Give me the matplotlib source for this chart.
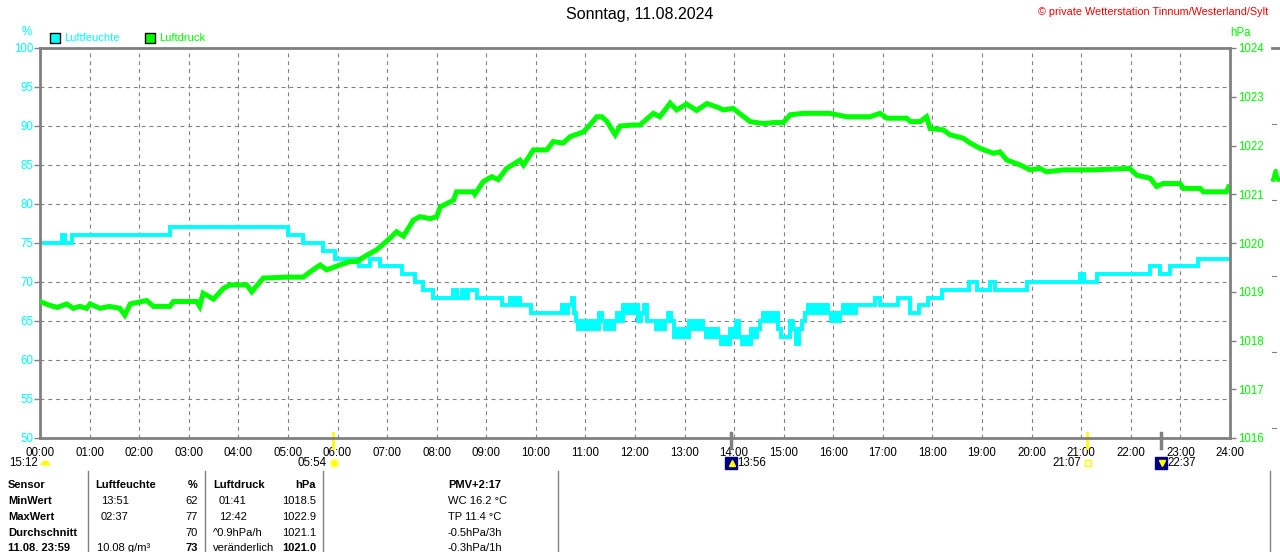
import matplotlib
matplotlib.use('Agg')
import matplotlib.pyplot as plt
import matplotlib.transforms as mtransforms
from matplotlib.lines import Line2D
from matplotlib.patches import Rectangle
from matplotlib.markers import MarkerStyle

plt.rcParams['font.family'] = ['Liberation Sans', 'DejaVu Sans']

# ---------------- data ----------------
title = "Sonntag, 11.08.2024"
copyright_text = "© private Wetterstation Tinnum/Westerland/Sylt"
hour_labels = ["%02d:00" % h for h in range(25)]
hum_ticks = [50, 55, 60, 65, 70, 75, 80, 85, 90, 95, 100]
pres_ticks = [1016, 1017, 1018, 1019, 1020, 1021, 1022, 1023, 1024]

# humidity (%), step series: time in hours, value
hum_t = [0.00, 0.44, 0.50, 0.65, 2.62, 5.00, 5.30, 5.71, 5.95, 6.43, 6.66, 6.86,
         7.30, 7.56, 7.72, 7.93, 8.33, 8.41, 8.51, 8.58, 8.64, 8.72, 8.81, 9.32,
         9.48, 9.56, 9.62, 9.68, 9.90,
         10.45, 10.52, 10.58, 10.65, 10.72, 10.76, 10.80, 10.86, 10.92, 10.98,
         11.04, 11.10, 11.16, 11.22, 11.28, 11.34, 11.40, 11.46, 11.52, 11.58,
         11.64, 11.70, 11.76, 11.82, 11.88, 11.94, 12.00, 12.06, 12.12, 12.18,
         12.24, 12.30, 12.36, 12.42, 12.48, 12.54, 12.60, 12.66, 12.72, 12.78,
         12.84, 12.90, 12.96, 13.02, 13.08, 13.14, 13.20, 13.26, 13.32, 13.38,
         13.44, 13.50, 13.56, 13.62, 13.68, 13.74, 13.80, 13.86, 13.92, 13.98,
         14.04, 14.10, 14.16, 14.22, 14.28, 14.34, 14.40, 14.46, 14.52, 14.58,
         14.64, 14.70, 14.76, 14.82, 14.88, 14.94, 15.00, 15.06, 15.12, 15.18,
         15.24, 15.30, 15.36, 15.42, 15.48, 15.54, 15.60, 15.66, 15.72, 15.78,
         15.84, 15.90, 15.96, 16.02, 16.08, 16.14, 16.20, 16.26, 16.32, 16.38,
         16.45, 16.85, 16.95, 17.30, 17.55, 17.72, 17.91, 18.19, 18.74, 18.90,
         19.16, 19.26, 19.91, 20.98, 21.05, 21.32, 22.39, 22.59, 22.79, 23.35,
         23.50, 24.00]
hum_v = [75, 76, 75, 76, 77, 76, 75, 74, 73, 72, 73, 72,
         71, 70, 69, 68, 69, 68, 69, 68, 69, 69, 68, 67,
         68, 67, 68, 67, 66,
         66, 67, 66, 67, 68, 66, 65, 64, 65, 64,
         65, 64, 65, 64, 66, 65, 64, 65, 64, 65,
         66, 65, 67, 66, 67, 66, 67, 65, 66, 67,
         65, 65, 65, 64, 65, 64, 65, 66, 65, 63,
         64, 63, 64, 63, 65, 64, 65, 64, 65, 64,
         63, 64, 63, 64, 63, 62, 63, 62, 64, 63,
         65, 63, 62, 63, 62, 64, 63, 64, 65, 66,
         65, 66, 65, 66, 64, 63, 63, 63, 65, 64,
         62, 64, 65, 66, 67, 66, 67, 66, 67, 66,
         67, 66, 65, 66, 65, 66, 67, 66, 67, 66,
         67, 68, 67, 68, 66, 67, 68, 69, 70, 69,
         70, 69, 70, 71, 70, 71, 72, 71, 72, 73,
         73, 73]

# pressure (hPa)
pres_t = [0.00, 0.20, 0.35, 0.54, 0.67, 0.80, 0.94, 1.01, 1.21, 1.40, 1.61, 1.71,
          1.82, 2.15, 2.29, 2.62, 2.69, 3.16, 3.22, 3.29, 3.50, 3.70, 3.83, 4.17,
          4.27, 4.50, 4.98, 5.31, 5.45, 5.65, 5.78, 6.05, 6.25, 6.39, 6.59, 6.79,
          7.06, 7.19, 7.33, 7.53, 7.66, 7.87, 8.00, 8.07, 8.34, 8.40, 8.74, 8.77,
          8.94, 9.11, 9.24, 9.41, 9.68, 9.75, 9.95, 10.22, 10.35, 10.55, 10.69,
          10.96, 11.09, 11.23, 11.33, 11.43, 11.60, 11.70, 11.97, 12.10, 12.37,
          12.50, 12.71, 12.84, 13.04, 13.24, 13.45, 13.68, 13.78, 13.98, 14.32,
          14.59, 14.79, 14.99, 15.13, 15.39, 15.93, 16.27, 16.74, 16.94, 17.08,
          17.48, 17.55, 17.75, 17.88, 17.95, 18.22, 18.35, 18.62, 18.76, 18.96,
          19.23, 19.36, 19.50, 19.77, 19.97, 20.17, 20.30, 20.64, 21.24, 21.98,
          22.12, 22.39, 22.52, 22.65, 22.99, 23.06, 23.40, 23.46, 23.93, 23.97]
pres_v = [1018.80, 1018.72, 1018.68, 1018.75, 1018.66, 1018.70, 1018.66, 1018.75,
          1018.66, 1018.70, 1018.66, 1018.52, 1018.75, 1018.82, 1018.70, 1018.70,
          1018.80, 1018.80, 1018.70, 1018.97, 1018.85, 1019.07, 1019.14, 1019.14,
          1019.00, 1019.28, 1019.30, 1019.30, 1019.41, 1019.55, 1019.45, 1019.55,
          1019.62, 1019.62, 1019.75, 1019.86, 1020.10, 1020.23, 1020.14, 1020.47,
          1020.54, 1020.50, 1020.54, 1020.74, 1020.88, 1021.05, 1021.05, 1021.00,
          1021.26, 1021.36, 1021.30, 1021.53, 1021.70, 1021.60, 1021.91, 1021.91,
          1022.08, 1022.05, 1022.18, 1022.28, 1022.42, 1022.59, 1022.59, 1022.50,
          1022.22, 1022.40, 1022.42, 1022.42, 1022.66, 1022.59, 1022.87, 1022.73,
          1022.85, 1022.72, 1022.86, 1022.78, 1022.73, 1022.76, 1022.49, 1022.45,
          1022.47, 1022.47, 1022.63, 1022.66, 1022.66, 1022.59, 1022.59, 1022.66,
          1022.56, 1022.56, 1022.49, 1022.49, 1022.59, 1022.35, 1022.32, 1022.22,
          1022.15, 1022.05, 1021.94, 1021.84, 1021.87, 1021.70, 1021.60, 1021.50,
          1021.53, 1021.46, 1021.50, 1021.50, 1021.53, 1021.39, 1021.33, 1021.16,
          1021.22, 1021.22, 1021.12, 1021.12, 1021.05, 1021.05, 1021.15]

# fragment of the next panel visible at the right edge
next_t = [24.87, 24.92, 24.96, 25.01]
next_v = [1021.30, 1021.48, 1021.30, 1021.30]

# astronomical events (hours)
day_length = "15:12"
sunrise, sunset = 5.90, 21.117
moonrise, moonset = 13.933, 22.617
sunrise_lbl, sunset_lbl = "05:54", "21:07"
moonrise_lbl, moonset_lbl = "13:56", "22:37"

# table
row_labels = ["Sensor", "MinWert", "MaxWert", "Durchschnitt", "11.08. 23:59"]
hum_head = ["Luftfeuchte", "%"]
hum_times = ["13:51", "02:37", "", "10.08 g/m³"]
hum_vals = ["62", "77", "70", "73"]
pres_head = ["Luftdruck", "hPa"]
pres_notes = ["01:41", "12:42", "^0.9hPa/h", "veränderlich"]
pres_vals = ["1018.5", "1022.9", "1021.1", "1021.0"]
pmv_lines = ["PMV+2:17", "WC 16.2 °C", "TP 11.4 °C", "-0.5hPa/3h", "-0.3hPa/1h"]

# ---------------- drawing ----------------
W, H = 1280, 552
CYAN, GREEN, GRAY = '#00FFFF', '#00FF00', '#808080'
FS = 8.3


def fx(x):
    return x / W


def fy(y):
    return 1 - y / H


fig = plt.figure(figsize=(W / 100, H / 100), dpi=100)
fig.patch.set_facecolor('white')
ax = fig.add_axes([fx(40), 114 / H, 1190 / W, 390 / H])
ax2 = ax.twinx()

ax.set_xlim(0, 24)
ax.set_ylim(50, 100)
ax2.set_ylim(1016, 1024)

ax.set_xticks(range(25))
ax.set_xticklabels(hour_labels)
ax.set_yticks(hum_ticks)
ax.set_yticklabels([str(v) for v in hum_ticks])
ax2.set_yticks(pres_ticks)
ax2.set_yticklabels([str(v) for v in pres_ticks])

ax.grid(True, color=GRAY, linestyle=(0, (3.5, 3.5)), linewidth=0.8)
ax.set_axisbelow(True)

for s in ['left', 'top', 'bottom']:
    ax.spines[s].set_color(GRAY)
    ax.spines[s].set_linewidth(2)
ax.spines['right'].set_visible(False)
for s in ['left', 'top', 'bottom']:
    ax2.spines[s].set_visible(False)
ax2.spines['right'].set_color(GRAY)
ax2.spines['right'].set_linewidth(2)

ax.tick_params(axis='x', length=0, pad=6.3, labelsize=FS, labelcolor='black')
ax.tick_params(axis='y', direction='out', length=4, width=1, color=GRAY,
               labelcolor=CYAN, labelsize=FS, pad=1)
ax2.tick_params(axis='y', direction='out', length=4, width=1, color=GRAY,
                labelcolor=GREEN, labelsize=FS, pad=2)

ax.plot(hum_t, hum_v, drawstyle='steps-post', color=CYAN, lw=2.8,
        solid_joinstyle='miter')
ax2.plot(pres_t, pres_v, color=GREEN, lw=3.6, solid_joinstyle='miter')
ax2.plot(next_t, next_v, color=GREEN, lw=3, clip_on=False)

# event marks below the axis
blend = mtransforms.blended_transform_factory(ax.transData, fig.transFigure)
for t, c, lw in [(sunrise, '#FFFF00', 2), (sunset, '#FFFF00', 2),
                 (moonrise, GRAY, 2.5), (moonset, GRAY, 2.5)]:
    ax.add_line(Line2D([t, t], [fy(433), fy(448)], transform=blend, color=c,
                       lw=lw, clip_on=False))


def off(dx):
    return mtransforms.offset_copy(blend, fig=fig, x=dx, y=0, units='dots')


yl = fy(463)
txt = dict(fontsize=FS, va='center', color='black')
# sunrise
ax.text(sunrise, yl, sunrise_lbl, transform=off(-6), ha='right', **txt)
ax.plot([sunrise], [yl], transform=off(1), marker='o', ms=6, color='#FFFF00',
        mec='#FFFFA0', mew=1.2, clip_on=False)
# sunset
ax.text(sunset, yl, sunset_lbl, transform=off(-6), ha='right', **txt)
ax.plot([sunset], [yl], transform=off(1), marker='s', ms=4, mfc='none',
        mec='#FFFF00', mew=1, clip_on=False)
# moonrise / moonset
for t, lbl, mk in [(moonrise, moonrise_lbl, '^'), (moonset, moonset_lbl, 'v')]:
    ax.plot([t], [yl], transform=off(0), marker='s', ms=8, color='#000080',
            clip_on=False)
    ax.plot([t], [yl], transform=off(1), marker=mk, ms=4, color='#FFFF00',
            clip_on=False)
    ax.text(t, yl, lbl, transform=off(6), ha='left', **txt)
# day length
fig.text(fx(38), yl, day_length, ha='right', **txt)
ax.plot([0], [fy(465)], transform=off(4.5), marker=MarkerStyle('o', fillstyle='top'),
        ms=7, color='#FFFF00', mec='#FFFF00', mew=0, clip_on=False)

# title / copyright
fig.text(0.5, fy(15), title, ha='center', va='center', fontsize=11.5, color='black')
fig.text(fx(1268), fy(12), copyright_text, ha='right', va='center', fontsize=7.8,
         color='#FF0000')

# legend and axis units
fig.text(fx(27), fy(32), '%', ha='center', va='center', fontsize=FS, color=CYAN)
fig.text(fx(1230), fy(33), 'hPa', ha='left', va='center', fontsize=FS, color=GREEN)
fig.patches.append(Rectangle((fx(50), fy(43)), 10 / W, 10 / H, transform=fig.transFigure,
                             facecolor=CYAN, edgecolor='black', lw=1))
fig.text(fx(64), fy(38), hum_head[0], ha='left', va='center', fontsize=8, color=CYAN)
fig.patches.append(Rectangle((fx(145), fy(43)), 10 / W, 10 / H, transform=fig.transFigure,
                             facecolor=GREEN, edgecolor='black', lw=1))
fig.text(fx(159), fy(38), pres_head[0], ha='left', va='center', fontsize=8, color=GREEN)

# table
rows_y = [485, 501, 517, 533, 548]
for i, lbl in enumerate(row_labels):
    fig.text(fx(8), fy(rows_y[i]), lbl, ha='left', va='center', fontsize=8,
             fontweight='bold')
fig.text(fx(95), fy(rows_y[0]), hum_head[0], ha='left', va='center', fontsize=8,
         fontweight='bold')
fig.text(fx(198), fy(rows_y[0]), hum_head[1], ha='right', va='center', fontsize=8,
         fontweight='bold')
fig.text(fx(213), fy(rows_y[0]), pres_head[0], ha='left', va='center', fontsize=8,
         fontweight='bold')
fig.text(fx(316), fy(rows_y[0]), pres_head[1], ha='right', va='center', fontsize=8,
         fontweight='bold')
for i in range(4):
    y = fy(rows_y[i + 1])
    last = (i == 3)
    hx = 97 if last else 101
    fig.text(fx(hx), y, hum_times[i], ha='left', va='center', fontsize=8)
    fig.text(fx(198), y, hum_vals[i], ha='right', va='center', fontsize=8,
             fontweight='bold' if last else 'normal')
    px_ = 213 if i >= 2 else 219
    fig.text(fx(px_), y, pres_notes[i], ha='left', va='center', fontsize=8)
    fig.text(fx(316), y, pres_vals[i], ha='right', va='center', fontsize=8,
             fontweight='bold' if last else 'normal')
for i, s in enumerate(pmv_lines):
    fig.text(fx(448), fy(rows_y[i]), s, ha='left', va='center', fontsize=8,
             fontweight='bold' if i == 0 else 'normal')

for x in [88, 205, 323, 558, 1270]:
    fig.add_artist(Line2D([fx(x), fx(x)], [fy(471), 0], transform=fig.transFigure,
                          color=GRAY, lw=1))

# stubs of the neighbouring panel at the right edge
fig.add_artist(Line2D([fx(1272), fx(1280)], [fy(48), fy(48)], transform=fig.transFigure,
                      color=GRAY, lw=2))
for y in [124, 200, 276, 352, 428]:
    fig.add_artist(Line2D([fx(1272), fx(1276)], [fy(y), fy(y)], transform=fig.transFigure,
                          color=GRAY, lw=0.8))

fig.savefig('out.png', dpi=100, facecolor='white')
